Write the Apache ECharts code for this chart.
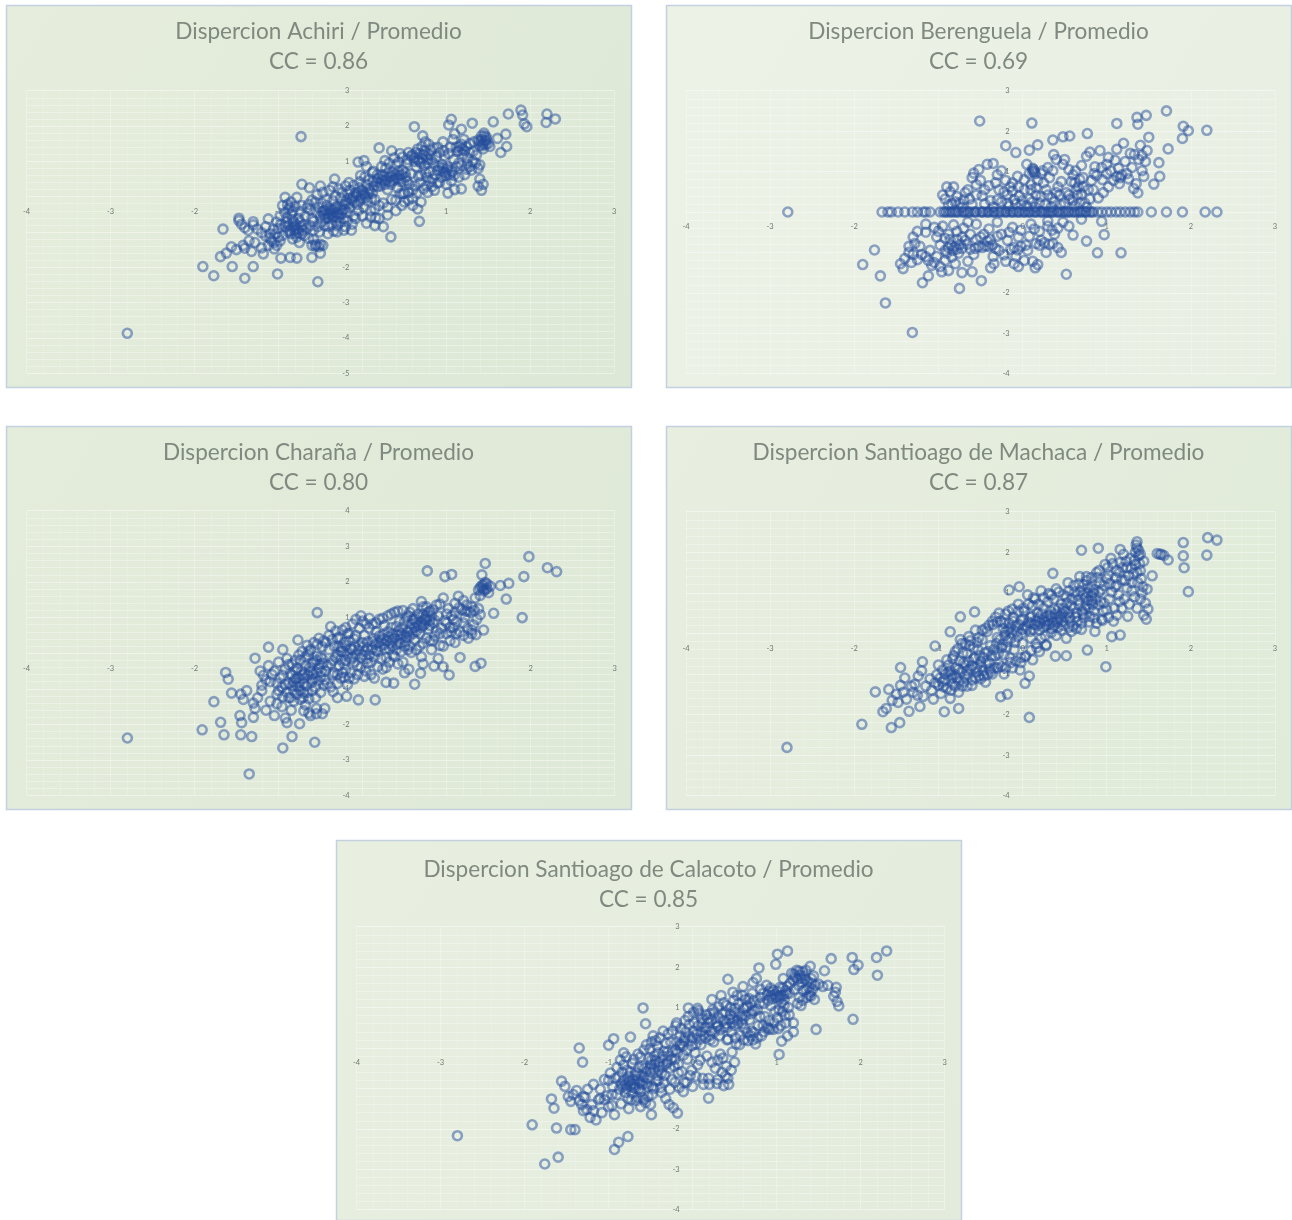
<!DOCTYPE html>
<html><head><meta charset="utf-8">
<script src="https://cdn.jsdelivr.net/npm/echarts@6/dist/echarts.min.js"></script>
<style>html,body{margin:0;padding:0;background:#fff}#c{width:1292px;height:1220px;filter:blur(0.75px)}</style>
</head><body><div id="c"></div>
<script>
const titles=["Dispercion Achiri / Promedio","Dispercion Berenguela / Promedio","Dispercion Charaña / Promedio","Dispercion Santioago de Machaca / Promedio","Dispercion Santioago de Calacoto / Promedio"];
const ccLabels=["CC = 0.86","CC = 0.69","CC = 0.80","CC = 0.87","CC = 0.85"];
const xRange=[-4,3];
const yRanges=[[-5,3],[-4,3],[-4,4],[-4,3],[-4,3]];
const achiri=[[-2.80,-3.87],[-0.73,1.70],[-1.90,-1.98],[-1.77,-2.24],[-1.55,-1.98],[-1.40,-2.31],[-1.30,-1.98],[-1.01,-2.19],[-0.53,-2.41],[-1.66,-0.92],[-1.47,-0.61],[-1.30,-0.71],[-1.12,-0.63],[-1.69,-1.70],[-1.62,-1.60],[-1.40,-1.46],
[2.30,2.20],[2.20,2.34],[2.19,2.10],[1.89,2.45],[1.91,2.31],[1.74,2.34],[1.96,1.98],[1.93,2.06],[1.56,2.12],[1.71,1.77],[1.61,1.65],[1.72,1.42],[1.65,1.25],[1.31,2.08],[1.06,2.19],[1.03,2.03],[1.18,1.91],[0.62,1.98],
[-1.47,-0.68],[-1.44,-0.78],[-1.40,-0.88],[-1.36,-0.95],[-1.30,-0.80],[-1.25,-0.92],[-1.20,-1.02],[-1.15,-0.85],[-1.10,-1.05],[-1.08,-1.25],[-1.12,-1.38],[-1.20,-1.45],[-1.28,-1.30],[-1.35,-1.25],[-1.42,-1.38],[-1.50,-1.50],[-1.56,-1.42],[-1.32,-1.55],[-1.18,-1.62],[-1.05,-1.48],[-0.97,-1.74],[-0.86,-1.72],[-0.78,-1.74],[-0.60,-1.72],[-0.50,-1.60],[-0.47,-1.38],[-0.52,-1.42],[-0.55,-1.36],
[-0.95,-1.10],[-0.92,-0.85],[-0.90,-0.60],[-0.88,-0.35],[-0.85,-0.15],[-0.92,-0.02],[-0.78,-0.02],[-0.72,0.35],[-0.63,0.25],[-0.50,0.30],[-0.33,0.50],[-0.85,-0.50],[-0.82,-0.72],[-0.80,-0.95],[-0.78,-1.15],[-0.75,-1.30],[-0.72,-1.05],[-0.70,-0.80],[-0.68,-0.55],[-0.66,-0.90],[-0.64,-1.18],[-0.88,-1.00],[-0.84,-0.88],[-0.83,-1.20],[-0.76,-0.62],[-0.74,-0.42],[-0.72,-0.25],[-0.60,-0.10],[-0.62,-0.82],[-0.58,-0.95],
[-0.55,-0.45],[-0.52,-0.30],[-0.50,-0.55],[-0.48,-0.18],[-0.46,-0.40],[-0.44,-0.62],[-0.42,-0.25],[-0.40,-0.50],[-0.38,-0.36],[-0.36,-0.58],[-0.35,-0.12],[-0.33,-0.44],[-0.31,-0.70],[-0.30,-0.28],[-0.28,-0.52],[-0.26,-0.05],[-0.24,-0.38],[-0.22,-0.62],[-0.20,-0.20],[-0.18,-0.46],[-0.17,0.08],[-0.15,-0.30],[-0.13,-0.95],[-0.12,-0.10],[-0.10,-0.55],[-0.40,-0.85],[-0.30,-1.00],[-0.20,-0.85],[-0.16,0.40],
[-0.08,0.10],[-0.06,-0.22],[-0.04,0.25],[-0.02,-0.05],[0.00,0.18],[0.02,-0.30],[0.03,0.05],[0.05,0.35],[0.06,-0.12],[0.08,0.22],[0.10,-0.40],[0.12,0.10],[0.13,0.42],[0.15,-0.08],[0.16,-0.60],[0.18,0.28],[0.20,-0.25],[-0.05,0.98],[0.02,1.02],[0.05,0.85],[0.12,0.68],[-0.02,0.60],[0.20,1.38],[0.34,-1.14],[0.25,-0.85],[0.15,-0.82],[0.30,-0.52],
[0.22,0.30],[0.24,0.62],[0.26,0.45],[0.28,0.80],[0.30,0.20],[0.32,0.55],[0.34,0.35],[0.36,0.70],[0.38,0.50],[0.40,0.90],[0.42,0.25],[0.44,0.60],[0.46,0.42],[0.48,0.75],[0.50,0.10],[0.52,0.55],[0.54,1.05],[0.56,0.35],[0.58,0.65],[0.60,0.20],[0.35,1.30],[0.45,1.22],[0.55,1.25],[0.40,-0.10],[0.47,-0.25],[0.60,-0.05],[0.66,-0.35],[0.68,-0.70],
[0.62,1.10],[0.64,0.85],[0.66,1.35],[0.68,1.00],[0.70,0.60],[0.72,1.20],[0.74,0.88],[0.75,1.55],[0.76,0.30],[0.78,1.05],[0.80,0.70],[0.82,1.32],[0.84,0.50],[0.85,0.95],[0.86,0.18],[0.88,1.12],[0.90,0.75],[0.92,0.40],[0.95,0.90],[0.97,0.70],[0.98,1.15],[1.00,0.60],[1.02,0.85],[1.05,1.40],[0.72,1.72],[0.96,1.55],[0.90,1.40],[0.70,-0.15],[0.78,0.12],
[1.06,0.75],[1.08,1.62],[1.10,1.78],[1.12,1.40],[1.15,1.30],[1.18,1.48],[1.20,1.20],[1.22,0.62],[1.25,1.10],[1.28,0.85],[1.30,0.75],[1.33,1.55],[1.35,0.95],[1.38,1.60],[1.40,1.45],[1.42,1.72],[1.44,1.35],[1.45,1.80],[1.46,1.58],[1.48,1.68],[1.50,1.50],[1.52,1.42],[1.40,0.50],[1.44,0.35],[1.38,0.30],[1.42,0.18],[1.18,0.22],[1.10,0.20],[1.02,0.10],[1.28,1.25],
[-0.90,-0.72],[-0.88,-0.80],[-0.86,-0.95],[-0.85,-1.05],[-0.83,-0.65],[-0.81,-0.85],[-0.80,-1.05],[-0.79,-0.78],[-0.77,-0.92],[-0.76,-1.02],[-0.74,-0.72],[-0.73,-0.85],[-0.71,-0.95],[-0.69,-1.10],[-0.92,-0.45],[-0.89,-0.22],[-0.86,-0.30],[-0.83,-0.42],[-0.80,-0.28],[-0.60,-1.38],[-0.56,-1.40],[-0.50,-1.35],[-1.05,-1.30],[-1.02,-1.38],[-0.98,-1.25],[-1.15,-1.12],[-1.00,-0.90],[-0.97,-0.78],
[-0.48,-0.42],[-0.46,-0.52],[-0.44,-0.38],[-0.42,-0.48],[-0.41,-0.60],[-0.39,-0.42],[-0.37,-0.50],[-0.35,-0.36],[-0.34,-0.56],[-0.32,-0.30],[-0.30,-0.46],[-0.29,-0.60],[-0.27,-0.35],[-0.25,-0.48],[-0.23,-0.22],[-0.21,-0.36],[-0.19,-0.12],[-0.16,-0.20],[-0.14,-0.05],[-0.11,0.00],[-0.09,-0.15],[-0.07,0.02],[-0.05,0.12],[-0.03,-0.12],[-0.01,0.05],[0.01,0.12],[0.04,-0.02],[0.07,0.08],[0.09,0.16],[0.11,-0.05],
[0.14,0.30],[0.17,0.42],[0.19,0.52],[0.21,0.38],[0.23,0.48],[0.25,0.58],[0.27,0.35],[0.29,0.48],[0.31,0.66],[0.33,0.42],[0.35,0.58],[0.37,0.45],[0.39,0.62],[0.41,0.52],[0.43,0.72],[0.45,0.50],[0.47,0.62],[0.49,0.40],[0.51,0.68],[0.53,0.45],
[0.60,1.18],[0.62,1.00],[0.64,1.25],[0.66,1.05],[0.68,1.22],[0.70,0.95],[0.72,1.08],[0.74,1.30],[0.76,1.15],[0.78,0.95],[0.80,1.20],[0.82,1.05],[0.91,0.85],[0.93,0.72],[0.96,0.82],[0.99,0.68],[1.01,0.78],[1.04,0.62],[1.07,0.70],[1.09,0.60],
[1.13,1.28],[1.16,1.42],[1.19,1.35],[1.22,1.30],[1.24,1.42],[1.40,1.55],[1.42,1.62],[1.44,1.50],[1.46,1.72],[1.48,1.60],[1.43,1.44],[1.47,1.48],[1.15,0.95],[1.25,0.92],[1.32,1.00],[1.38,0.80],[0.55,-0.10],[0.48,0.08],[-1.10,-1.18],[-1.03,-1.05],
[-0.58,-0.70],[-0.56,-0.15],[-0.54,0.05],[-0.53,-0.85],[-0.51,-1.00],[-0.49,-0.72],[-0.47,0.12],[-0.45,-0.82],[-0.43,-0.08],[-0.41,-1.05],[-0.39,0.18],[-0.37,-0.78],[-0.35,0.28],[-0.34,-0.98],[-0.32,0.02],[-0.30,-0.82],[-0.28,0.22],[-0.26,-0.72],[-0.24,0.12],[-0.22,-0.95],[-0.20,0.30],[-0.18,-0.68],[-0.15,0.18],[-0.12,-0.78],[-0.10,0.32],[-0.08,-0.62],[-0.05,-0.40],[-0.03,0.42],[0.00,-0.55],[0.03,0.55],[0.05,-0.75],[0.08,0.48],[0.10,-0.58],[0.13,0.72],[0.15,-0.35],[0.18,0.62],[0.20,-0.62],[0.23,0.85],[0.25,-0.18],[0.27,1.02],[0.30,-0.30],[0.32,0.95],[0.35,-0.08],[0.38,1.10],[0.40,-0.40],[0.43,0.98],[0.45,0.08],[0.48,1.12],[0.50,-0.15],[0.53,0.95],[0.55,0.12],[0.58,1.15],[0.60,-0.25],[0.63,0.30],[0.65,0.10],[0.67,0.58],[0.69,0.40],[0.71,1.42],[0.73,0.22],[0.75,0.68],[0.77,0.55],[0.79,1.48],[0.81,0.42],[0.83,0.28],[0.85,1.38],[0.87,0.62],[0.89,0.38],[0.92,1.25],[0.94,0.55],[0.97,1.30],[1.00,0.35],[1.03,1.22],[1.06,0.45],[1.09,1.05],[1.12,0.85],[1.15,0.55],[1.18,0.88],[1.21,1.62],[1.24,0.78],[1.28,1.50],[1.32,1.28],[1.36,1.18],[1.40,0.90],[-0.95,-0.25],[-0.98,-0.55],[-1.00,-1.15],[-1.02,-0.72],[-1.06,-0.92],[-0.62,-0.38],[-0.60,-0.62],[-0.64,-0.22],[-0.66,-0.32],[-0.58,-1.22]];
const berenguela=[[-2.79,0],[-1.67,0],[-1.60,0],[-1.56,0],[-1.48,0],[-1.40,0],[-1.31,0],[-1.25,0],[-1.18,0],[-1.15,0],[-1.10,0],[-0.98,0],[-0.94,0],[-0.90,0],[-0.87,0],[-0.83,0],[-0.80,0],[-0.76,0],[-0.72,0],[-0.69,0],[-0.66,0],[-0.62,0],[-0.58,0],[-0.55,0],[-0.50,0],[-0.47,0],[-0.43,0],[-0.40,0],[-0.36,0],[-0.33,0],[-0.29,0],[-0.25,0],[-0.21,0],[-0.18,0],[-0.14,0],[-0.11,0],[-0.07,0],[-0.04,0],[0.00,0],[0.03,0],[0.07,0],[0.10,0],[0.14,0],[0.17,0],[0.21,0],[0.24,0],[0.27,0],[0.31,0],[0.34,0],[0.37,0],[0.41,0],[0.44,0],[0.47,0],[0.51,0],[0.54,0],[0.58,0],[0.61,0],[0.65,0],[0.68,0],[0.72,0],[0.76,0],[0.80,0],[0.84,0],[0.89,0],[0.94,0],[1.00,0],[1.05,0],[1.11,0],[1.16,0],[1.22,0],[1.28,0],[1.33,0],[1.37,0],[1.53,0],[1.71,0],[1.90,0],[2.17,0],[2.31,0],
[-0.92,0],[-0.85,0],[-0.78,0],[-0.70,0],[-0.64,0],[-0.56,0],[-0.48,0],[-0.41,0],[-0.34,0],[-0.27,0],[-0.20,0],[-0.12,0],[-0.05,0],[0.02,0],[0.08,0],[0.15,0],[0.22,0],[0.29,0],[0.35,0],[0.42,0],[0.49,0],[0.55,0],[0.62,0],[0.69,0],[0.75,0],[0.82,0],
[-0.51,2.25],[0.11,2.20],[1.71,2.50],[1.36,2.34],[1.47,2.39],[1.37,2.17],[1.12,2.19],[1.91,2.12],[1.97,2.01],[1.90,1.82],[2.19,2.02],[1.73,1.56],[1.62,1.22],[1.63,0.88],[1.56,0.69],[1.37,0.47],[0.77,1.94],[0.56,1.88],[0.48,1.86],[0.36,1.78],[0.18,1.66],[0.08,1.53],[-0.20,1.64],[-0.08,1.47],
[-1.76,-0.94],[-1.90,-1.30],[-1.69,-1.58],[-1.63,-2.25],[-1.31,-2.98],[-0.75,-1.89],[-0.49,-1.70],[-1.19,-1.75],[-1.12,-1.58],[0.52,-1.54],[0.89,-1.01],[1.17,-1.01],[0.97,-0.56],[0.94,-0.23],[0.76,-0.72],[0.60,-0.57],
[-0.90,0.62],[-0.86,0.50],[-0.92,0.32],[-0.84,0.20],[-0.78,0.38],[-0.72,0.12],[-0.65,0.55],[-0.63,0.32],[-0.60,0.85],[-0.58,0.96],[-0.52,1.05],[-0.50,0.78],[-0.48,0.40],[-0.42,1.18],[-0.35,1.20],[-0.30,0.92],[-0.28,0.55],[-0.25,0.25],[-0.20,0.78],[-0.18,0.42],[-0.15,0.62],[-0.10,0.30],[-0.06,0.88],[-0.02,0.18],[0.02,0.55],[0.05,1.18],[0.08,0.32],[0.12,1.08],[0.14,1.00],[0.16,0.42],[0.18,0.78],[0.20,0.22],[0.24,1.02],[0.28,0.55],[0.32,0.85],[0.35,0.35],[0.37,1.42],[0.40,1.30],[0.42,0.62],[0.45,0.18],[0.48,1.18],[0.52,0.48],[0.55,1.05],[0.58,0.75],[0.60,0.28],[0.63,1.02],[0.66,0.62],[0.70,0.45],[0.72,0.85],[0.74,0.22],[0.76,1.38],[0.80,1.48],[0.84,0.55],[0.86,1.12],[0.88,0.90],[0.92,1.52],[0.96,0.48],[1.00,1.18],[1.02,1.35],[1.05,1.02],[1.08,0.78],[1.12,1.55],[1.14,1.08],[1.18,0.92],[1.20,1.70],[1.22,1.25],[1.26,0.82],[1.30,1.10],[1.33,1.42],[1.35,0.70],[1.38,1.30],[1.40,1.65],[1.42,1.02],[1.44,0.88],[1.46,1.25],[1.48,1.52],[1.50,1.85],
[-1.15,-0.30],[-1.05,-0.38],[-1.00,-0.48],[-0.95,-0.35],[-0.88,-0.55],[-0.82,-0.32],[-0.78,-0.48],[-0.70,-0.40],[-0.62,-0.55],[-0.55,-0.30],[-0.50,-0.62],[-0.40,-0.42],[-0.30,-0.25],[-0.25,-0.55],[-0.12,-0.38],[-0.05,-0.62],[0.10,-0.30],[0.20,-0.48],[0.30,-0.22],[0.42,-0.40],[0.48,-0.25],[0.55,-0.35],[0.70,-0.18],
[-1.30,-0.62],[-1.28,-0.78],[-1.22,-0.85],[-1.35,-1.00],[-1.40,-1.15],[-1.45,-1.28],[-1.42,-1.40],[-1.32,-1.25],[-1.20,-1.05],[-1.10,-0.95],[-1.02,-1.10],[-1.05,-1.25],[-0.98,-1.35],[-0.92,-1.20],[-0.88,-1.45],[-0.80,-1.28],[-0.72,-1.50],[-0.65,-1.22],[-0.60,-1.48],[-0.38,-1.38],[-0.34,-1.28],[-0.20,-1.22],[-0.10,-1.28],[-0.05,-1.35],[0.12,-1.22],[0.18,-1.30],[0.15,-1.38],
[-0.92,-0.95],[-0.88,-0.88],[-0.85,-0.82],[-0.83,-0.95],[-0.80,-0.86],[-0.78,-0.92],[-0.76,-1.02],[-0.74,-0.80],[-0.72,-0.90],[-0.62,-0.92],[-0.56,-0.90],[-0.52,-0.85],[-0.48,-0.88],[-0.44,-0.84],[-0.40,-0.86],[-0.36,-0.82],[-0.32,-0.90],[-0.14,-0.92],[-0.10,-0.88],[-0.06,-0.94],[-0.02,-0.85],[0.04,-0.82],[0.16,-0.78],[0.20,-0.82],[0.26,-0.76],[0.32,-0.80],[0.36,-0.78],[0.42,-0.88],[0.46,-1.00],
[-0.88,0.18],[-0.80,0.25],[-0.70,0.30],[-0.60,0.18],[-0.55,0.42],[-0.45,0.20],[-0.40,0.65],[-0.35,0.12],[-0.30,0.30],[-0.22,0.50],[-0.16,0.15],[-0.12,0.72],[-0.08,0.20],[-0.04,0.40],[0.00,0.28],[0.05,0.15],[0.10,0.68],[0.12,0.25],[0.15,0.12],[0.22,0.38],[0.25,0.72],[0.27,0.18],[0.30,0.42],[0.34,0.12],[0.38,0.25],[0.44,0.42],[0.50,0.22],[0.56,0.32],[0.62,0.15],[0.65,0.42],[0.68,0.22],[0.72,0.62],[0.76,0.12],[0.80,0.32],[0.12,1.00],[0.15,0.95],[0.13,1.05],[0.85,0.95],[0.95,0.80],[1.00,0.95],[1.16,0.85],[1.12,0.88],[0.62,0.72],[0.68,0.80],[0.64,0.55],
[-1.30,-1.05],[-1.25,-1.18],[-1.15,-1.10],[-1.08,-1.32],[-0.96,-1.48],[-0.90,-1.02],[-0.84,-1.12],[-0.78,-0.68],[-0.68,-0.70],[-0.58,-1.05],[-0.42,-0.72],[-0.22,-1.06],[-0.18,-0.70],[-0.08,-1.10],[0.02,-1.20],[0.08,-0.60],[0.22,-0.70],[0.30,-0.35],[0.38,-0.55],[-0.30,-0.60],[-0.65,-0.25],[-0.92,-0.65],[-1.15,-0.50],[-0.35,-1.10],
[-0.95,0.42],[-0.82,0.62],[-0.75,0.22],[-0.68,0.48],[-0.55,0.68],[-0.45,0.55],[-0.38,0.28],[-0.32,0.72],[-0.25,1.02],[-0.18,0.22],[-0.12,0.52],[-0.05,0.62],[0.02,0.80],[0.08,0.95],[0.10,0.55],[0.16,0.60],[0.22,0.95],[0.30,1.10],[0.36,1.02],[0.40,0.48],[0.46,0.75],[0.50,1.30],[0.55,0.42],[0.60,0.92],[0.70,1.15],[0.78,0.55],[0.82,0.78],[0.90,0.35],[0.94,1.10],[1.02,0.62],[1.10,1.28],[1.15,0.70],[1.24,0.95],[1.28,1.45],[1.32,0.58],[1.42,1.40],[-1.02,-0.62],[-0.98,-0.82],[-0.86,-0.68],[-0.72,-0.62],[-0.66,-0.80],[-0.55,-0.68],[-0.46,-0.55],[-0.38,-0.68],[-0.28,-0.95],[-0.16,-0.50],[-0.02,-0.45],[0.06,-0.95],[0.14,-0.42],[0.28,-1.00],[0.35,-0.45],[-1.35,-0.85],[-1.25,-0.48],[-1.12,-1.20]];
const charana=[[-2.80,-2.38],[-1.91,-2.15],[-1.77,-1.36],[-1.69,-1.94],[-1.65,-2.29],[-1.63,-0.54],[-1.60,-0.73],[-1.56,-1.12],[-1.45,-2.29],[-1.32,-2.34],[-1.35,-3.39],[-0.95,-2.66],[-0.84,-2.34],[-0.57,-2.50],[-1.28,-0.14],[-1.12,0.17],[-0.77,0.37],[-0.54,1.14],[-0.38,0.75],[0.77,2.31],[0.98,2.15],[1.06,2.21],[1.46,2.52],[1.42,2.20],[1.98,2.71],[2.20,2.40],[2.31,2.29],[1.92,2.15],[1.90,1.00],[1.71,1.52],[1.74,1.96],[1.64,1.90],[1.56,1.12],[1.41,-0.28],[1.34,-0.37],[1.03,-0.61],[0.85,-0.36],[0.69,-0.56],[0.62,-0.87],[0.37,-0.84],[0.15,-1.31],[-0.05,-1.31],[-0.19,-1.21],
[-1.45,-1.15],[-1.42,-1.30],[-1.38,-1.05],[-1.46,-1.75],[-1.44,-1.95],[-1.30,-1.80],[-1.25,-1.25],[-1.20,-1.05],[-1.15,-1.60],[-1.10,-1.35],[-1.05,-1.75],[-1.02,-1.15],[-0.96,-1.50],[-0.92,-1.82],[-0.90,-1.95],[-0.88,-1.25],[-0.85,-1.60],[-0.75,-1.98],[-0.70,-1.62],[-0.62,-1.75],[-0.55,-1.70],[-0.45,-1.55],[-0.30,-1.25],
[-1.22,-0.50],[-1.18,-0.62],[-1.12,-0.35],[-1.10,-0.80],[-1.05,-0.50],[-1.00,-0.25],[-0.98,-0.70],[-0.95,0.10],[-0.92,-0.45],[-0.90,-0.15],[-0.88,-0.85],[-0.86,-0.58],[-0.84,-0.30],[-0.82,-1.05],[-0.80,-0.72],[-0.78,-0.42],[-0.76,-0.95],[-0.74,-0.20],[-0.72,-0.62],[-0.70,-0.85],[-0.68,-0.35],[-0.66,-1.10],[-0.64,0.05],[-0.62,-0.50],[-0.60,-0.75],[-0.58,-0.25],[-0.56,-0.95],[-0.54,0.25],[-0.52,-0.42],[-0.50,-0.65],[-0.48,-0.15],[-0.46,0.35],[-0.44,-0.50],[-0.42,-0.85],[-0.40,0.10],[-0.38,-0.30],[-0.36,-0.60],
[-0.34,0.20],[-0.32,-0.12],[-0.30,0.42],[-0.28,-0.35],[-0.26,0.05],[-0.24,-0.55],[-0.22,0.30],[-0.20,-0.20],[-0.18,0.55],[-0.16,-0.70],[-0.14,0.12],[-0.12,-0.10],[-0.10,0.40],[-0.08,0.95],[-0.06,-0.35],[-0.04,0.22],[-0.02,1.05],[0.00,-0.05],[0.02,0.50],[0.04,-0.50],[0.06,0.15],[0.08,0.70],[0.10,-0.25],[0.12,0.32],[0.14,-0.70],[0.16,0.85],[0.18,0.05],[0.20,0.48],[0.22,-0.15],[0.24,0.98],[0.26,0.25],[0.28,-0.40],[0.30,0.60],[0.32,0.12],[0.34,1.10],[0.36,0.38],[0.38,-0.10],[0.40,0.75],[0.42,1.18],[0.44,0.28],[0.46,0.55],[0.48,-0.25],[0.50,0.90],[0.52,0.45],[0.54,1.05],[0.56,0.20],[0.58,0.68],[0.60,1.25],[0.62,0.38],[0.64,0.85],[0.66,1.10],[0.68,0.55],[0.70,1.45],[0.72,0.28],[0.74,0.95],[0.76,1.30],[0.78,0.68],[0.80,1.18],[0.82,0.10],[0.84,0.85],[0.86,0.48],[0.88,1.35],[0.90,1.05],[0.92,0.22],[0.94,0.70],[0.96,1.55],[0.98,0.92],[1.00,0.55],[1.02,1.25],[1.04,0.35],[1.06,1.05],[1.08,0.72],[1.10,1.40],[1.12,0.88],[1.14,1.60],[1.16,0.60],[1.18,1.22],[1.20,1.48],[1.22,1.00],[1.24,1.35],[1.26,0.42],[1.28,1.15],[1.30,1.30],[1.32,0.80],[1.34,1.55],[1.36,0.95],[1.38,1.25],[1.40,1.08],[1.42,1.90],[1.44,1.75],[1.46,1.98],[1.48,1.82],[1.50,1.70],[1.40,1.62],[1.52,1.88],[1.44,0.65],[0.50,-0.55],[0.55,-0.45],[0.28,-0.82],[0.72,-0.30],[0.90,-0.15],[0.96,-0.38],[1.16,-0.12],
[-0.65,-0.05],[-0.60,-0.30],[-0.55,-0.55],[-0.50,-0.10],[-0.45,-0.75],[-0.35,-0.20],[-0.30,-0.60],[-0.25,0.15],[-0.20,-0.45],[-0.10,-0.25],[0.00,0.30],[0.05,-0.15],[0.15,0.25],[0.25,0.40],[0.35,0.20],[0.42,0.50],[0.55,0.62],[0.62,0.72],[0.70,0.88],[0.75,1.02],[0.80,0.92],[0.72,0.78],
[-0.84,-0.62],[-0.82,-0.80],[-0.80,-0.50],[-0.79,-0.92],[-0.77,-0.68],[-0.75,-0.82],[-0.74,-1.05],[-0.73,-0.50],[-0.71,-1.25],[-0.70,-0.70],[-0.69,-0.55],[-0.68,-1.45],[-0.67,-0.92],[-0.65,-0.62],[-0.64,-1.68],[-0.63,-0.40],[-0.61,-0.82],[-0.59,-0.58],[-0.57,-0.70],[-0.55,-0.20],[-0.53,-0.78],[-0.51,-0.32],[-0.49,-0.52],[-0.47,-0.28],
[-0.30,-0.05],[-0.28,0.18],[-0.26,-0.18],[-0.24,0.05],[-0.22,-0.30],[-0.20,0.22],[-0.18,-0.02],[-0.16,0.35],[-0.14,-0.15],[-0.12,0.10],[-0.10,0.20],[-0.08,-0.05],[-0.05,0.08],[-0.02,-0.12],[0.01,0.18],[0.03,0.05],[0.06,0.32],[0.08,-0.05],[0.11,0.12],[0.13,0.42],[0.16,0.08],[0.19,0.30],[0.21,0.18],[0.24,0.52],[0.27,0.12],[0.29,0.35],[0.31,0.45],[0.33,0.28],[0.36,0.55],[0.38,0.42],[0.41,0.25],[0.43,0.62],[0.45,0.40],[0.47,0.72],[0.49,0.50],[0.51,0.32],[0.53,0.60],[0.56,0.48],[0.58,0.82],[0.60,0.55],[0.62,0.95],[0.64,0.62],[0.66,0.78],[0.68,1.02],[0.70,0.72],[0.72,1.10],[0.74,0.82],[0.76,0.95],[0.78,1.15],[0.80,0.78],[0.82,1.05],[0.84,1.22],[0.86,0.92],[1.00,0.85],[1.04,0.72],[1.08,0.95],[1.12,0.55],[1.20,0.85],[1.25,0.70],[1.30,0.55],[1.40,1.85],[1.44,1.92],[1.46,1.78],[1.48,1.95],[1.43,1.82],[1.38,1.78],[1.33,1.20],[1.22,1.18],[1.10,1.15],[0.92,1.38],[0.70,-0.10],[-1.30,-1.40],[-1.28,-1.55],[-1.02,-1.42],[-0.95,-1.22],[-0.55,-1.55],[-0.48,-1.70],[-0.35,-1.08],
[-0.95,-0.62],[-0.92,-0.88],[-0.90,-1.10],[-0.88,-0.32],[-0.86,-1.25],[-0.84,-0.92],[-0.82,-1.35],[-0.80,-0.20],[-0.78,-1.15],[-0.76,-0.05],[-0.74,-1.30],[-0.72,0.05],[-0.70,-1.12],[-0.68,-0.10],[-0.66,0.22],[-0.64,-1.28],[-0.62,0.10],[-0.60,-1.05],[-0.58,0.30],[-0.56,-1.25],[-0.54,-0.08],[-0.52,0.42],[-0.50,-1.10],[-0.48,0.18],[-0.46,-0.90],[-0.44,0.30],[-0.42,-0.35],[-0.40,0.50],[-0.38,-0.95],[-0.36,0.38],[-0.34,-0.55],[-0.32,0.62],[-0.30,-0.85],[-0.28,0.45],[-0.26,-0.70],[-0.24,0.65],[-0.22,-0.68],[-0.20,0.72],[-0.18,-0.88],[-0.16,0.55],[-0.14,-0.55],[-0.12,0.82],[-0.10,-0.72],[-0.08,0.50],[-0.06,-0.60],[-0.04,0.70],[-0.02,-0.40],[0.00,0.90],[0.02,-0.65],[0.04,0.82],[0.06,-0.28],[0.08,0.98],[0.10,-0.60],[0.12,0.82],[0.14,-0.10],[0.16,0.60],[0.18,-0.38],[0.20,0.95],[0.22,0.35],[0.24,-0.45],[0.26,0.78],[0.28,-0.12],[0.30,1.05],[0.32,-0.25],[0.34,0.72],[0.36,-0.05],[0.38,1.15],[0.40,0.10],[0.42,-0.30],[0.44,0.90],[0.46,0.05],[0.48,1.20],[0.50,0.20],[0.52,1.00],[0.54,0.10],[0.56,1.15],[0.58,0.02],[0.60,0.95],[0.64,0.10],[0.68,0.20],[0.72,1.30],[0.76,0.42],[0.80,0.35],[0.84,0.35],[0.88,0.62],[0.92,0.55],[0.96,0.20],[1.00,1.10],[1.05,0.60],[1.10,0.30],[1.15,1.28],[1.20,0.50],[1.25,1.18],[1.30,0.65],[1.35,0.52],[-1.20,-0.90],[-1.15,-0.75],[-1.08,-0.60],[-1.02,-0.85],[-1.00,-1.05],[-0.96,-0.95]];
const machaca=[[-2.80,-2.81],[-1.91,-2.24],[-1.56,-2.32],[-1.46,-2.20],[-1.66,-1.93],[-1.75,-1.44],[-1.59,-1.38],[-1.45,-0.84],[-1.19,-0.70],[-1.04,-0.31],[-0.93,-1.93],[-0.76,-1.85],[0.08,-2.07],[-0.26,-1.56],[-0.18,-1.50],[0.03,-1.23],[-0.74,0.41],[-0.57,0.53],[-0.86,0.04],[-0.16,1.07],[-0.04,1.15],[0.36,1.48],[0.70,2.05],[0.90,2.10],[1.16,2.07],[1.36,2.26],[1.36,2.10],[1.63,1.95],[1.73,1.81],[1.91,2.24],[1.91,1.91],[1.92,1.62],[1.97,1.03],[2.20,2.36],[2.31,2.30],[2.19,1.93],[1.54,1.42],[1.48,1.09],[1.49,0.60],[1.47,0.35],[1.06,-0.08],[1.16,-0.04],[0.99,-0.82],[0.77,-0.41],[0.52,-0.55],[0.39,-0.56],
[-1.62,-1.85],[-1.55,-1.65],[-1.50,-1.50],[-1.45,-1.28],[-1.40,-1.10],[-1.38,-1.62],[-1.35,-1.92],[-1.30,-1.45],[-1.28,-1.25],[-1.24,-1.05],[-1.20,-0.92],[-1.18,-1.55],[-1.15,-1.30],[-1.10,-1.12],[-1.06,-1.62],[-1.02,-1.02],[-1.00,-1.28],[-0.97,-1.48],[-0.95,-0.90],[-0.92,-1.15],[-0.90,-1.35],[-0.88,-0.78],[-0.86,-1.60],[-0.85,-1.02],[-0.83,-1.25],[-0.82,-0.55],[-0.80,-0.85],[-0.78,-1.10],[-0.76,-1.45],[-0.75,-0.68],[-0.73,-0.95],[-0.72,-0.25],[-0.70,-1.20],[-0.68,-0.78],[-0.66,-0.50],[-0.65,-1.02],[-0.63,-0.30],[-0.62,-0.88],[-0.60,-1.15],[-0.58,-0.62],[-0.56,0.08],[-0.55,-0.85],[-0.53,-0.40],[-0.52,-1.05],[-0.50,-0.70],[-0.48,-0.15],[-0.47,-0.92],[-0.45,-0.48],[-0.44,-1.20],[-0.42,0.05],[-0.40,-0.72],[-0.38,-0.30],[-0.36,-1.00],[-0.35,0.22],
[-0.33,-0.55],[-0.32,0.40],[-0.30,-0.10],[-0.28,-0.75],[-0.26,0.30],[-0.25,-0.35],[-0.23,0.12],[-0.22,-0.52],[-0.20,0.48],[-0.18,-0.20],[-0.16,0.25],[-0.15,-0.60],[-0.13,0.02],[-0.12,0.60],[-0.10,-0.40],[-0.08,0.18],[-0.06,-0.08],[-0.05,0.72],[-0.03,-0.90],[-0.02,0.32],[0.00,-0.25],[0.02,0.55],[0.03,-0.58],[0.05,0.12],[0.06,0.95],[0.08,-1.05],[0.09,0.40],[0.10,-0.12],[0.12,0.68],[0.14,0.22],[0.15,0.85],[0.17,-0.35],[0.18,0.50],[0.20,0.08],[0.22,1.05],[0.24,0.35],[0.25,0.62],[0.27,-0.05],[0.28,0.20],[0.30,0.78],[0.32,0.45],[0.34,0.95],[0.36,0.28],[0.38,0.60],[0.40,1.10],[0.42,0.15],[0.44,0.42],[0.46,0.72],[0.48,0.30],[0.50,0.55],[0.52,0.90],[0.54,1.25],[0.56,0.40],[0.58,0.68],[0.60,0.18],[0.62,1.02],[0.64,0.50],[0.66,0.82],[0.68,1.40],[0.70,0.25],[0.72,0.95],[0.74,0.62],[0.76,1.30],[0.78,1.12],[0.80,0.42],[0.82,0.80],[0.84,1.00],[0.86,0.05],[0.88,1.50],[0.90,0.70],[0.92,1.25],[0.94,1.08],[0.96,0.55],[0.98,1.70],[1.00,1.35],[1.02,1.45],[1.05,1.85],[1.08,0.30],[1.10,1.15],[1.12,1.55],[1.14,0.95],[1.16,1.75],[1.18,0.62],[1.20,1.95],[1.22,1.30],[1.24,1.62],[1.25,0.42],[1.28,1.85],[1.30,1.05],[1.32,1.48],[1.34,1.70],[1.35,2.18],[1.37,1.25],[1.38,1.92],[1.40,1.55],[1.42,1.00],[1.44,1.78],[1.46,0.75],[1.44,0.45],[1.65,1.95],[1.60,1.97],[1.68,1.92],[1.12,0.45],[1.02,0.40],[0.95,0.32],[0.85,0.38],
[-0.92,-1.00],[-0.88,-0.95],[-0.84,-1.10],[-0.80,-1.02],[-0.76,-1.18],[-0.72,-1.30],[-0.68,-1.05],[-0.85,-1.40],[-0.80,-1.30],[-0.76,-0.88],[-0.20,0.05],[-0.15,0.15],[0.00,0.10],[0.10,0.25],[0.18,0.20],[0.25,0.15],[0.30,0.30],[0.35,0.12],[0.42,0.35],[0.48,0.20],[0.55,0.15],[0.65,0.30],[0.72,0.48],[0.78,0.82],[0.82,0.92],[0.76,0.70],
[-0.70,-0.72],[-0.66,-0.92],[-0.64,-0.68],[-0.60,-0.80],[-0.57,-0.60],[-0.54,-0.95],[-0.51,-0.55],[-0.49,-0.82],[-0.46,-0.60],[-0.43,-0.75],[-0.41,-0.45],[-0.39,-0.88],[-0.37,-0.55],[-0.34,-0.40],[-0.31,-0.25],[-0.29,-0.50],[-0.27,-0.15],[-0.24,-0.28],[-0.21,-0.05],[-0.19,-0.35],[-0.17,0.08],[-0.14,-0.12],[-0.11,0.30],[-0.09,-0.22],[-0.07,0.05],[-0.04,0.22],[-0.01,0.00],[0.01,0.35],[0.04,0.18],[0.07,0.28],[0.09,0.05],[0.11,0.42],[0.13,0.10],[0.16,0.32],[0.19,0.38],[0.21,0.25],[0.23,0.48],[0.26,0.30],[0.29,0.42],[0.31,0.22],[0.33,0.55],[0.35,0.40],[0.37,0.18],[0.39,0.48],[0.41,0.28],[0.43,0.62],[0.45,0.35],[0.47,0.48],[0.49,0.62],[0.51,0.40],[0.53,0.75],[0.55,0.52],[0.57,0.30],[0.59,0.85],[0.61,0.62],[0.63,0.40],[0.65,0.95],[0.67,0.70],[0.69,1.05],[0.71,0.55],[0.73,1.20],[0.75,0.88],[0.77,1.00],[0.79,0.62],[0.81,1.15],[0.83,0.72],[0.85,1.08],[0.87,0.85],[0.89,1.38],[0.91,1.02],[0.93,0.78],[0.97,1.18],[1.01,1.62],[1.04,1.22],[1.07,1.72],[1.11,1.38],[1.15,1.50],[1.19,1.62],[1.23,1.78],[1.26,1.42],[1.29,1.60],[1.33,1.80],[1.36,1.50],[1.39,1.72],[1.41,1.35],[1.38,2.05],[1.34,2.00],[1.40,1.95],[-1.25,-1.52],[-1.32,-1.30],[-1.42,-1.45],[-1.48,-1.70],[-1.22,-1.80],[-1.08,-1.40],[-1.04,-1.22],[-0.98,-1.10],[-0.94,-1.32],[-0.30,-0.85],[-0.22,-1.00],[-0.12,-0.85],[-0.02,-0.60],[0.12,-0.65],[0.20,-0.45],[0.28,-0.28],
[-1.00,-0.78],[-0.95,-1.20],[-0.90,-0.65],[-0.86,-0.92],[-0.83,-0.62],[-0.80,-0.45],[-0.77,-0.38],[-0.74,-0.15],[-0.71,-0.48],[-0.68,-0.25],[-0.66,-1.30],[-0.64,-0.08],[-0.62,-0.18],[-0.60,-1.28],[-0.58,-0.35],[-0.56,-1.10],[-0.54,-0.22],[-0.52,-0.10],[-0.50,-1.12],[-0.48,0.08],[-0.46,-1.05],[-0.44,0.12],[-0.42,-1.02],[-0.40,0.20],[-0.38,-0.95],[-0.36,0.30],[-0.33,-0.85],[-0.30,0.28],[-0.28,0.50],[-0.25,-0.82],[-0.22,0.25],[-0.20,-0.85],[-0.17,0.55],[-0.14,-0.72],[-0.11,0.40],[-0.08,-0.68],[-0.05,0.55],[-0.02,-0.72],[0.01,0.62],[0.04,-0.55],[0.07,0.72],[0.10,-0.42],[0.13,0.88],[0.16,-0.25],[0.19,0.72],[0.22,-0.12],[0.25,0.88],[0.28,-0.30],[0.31,0.98],[0.34,0.02],[0.37,0.85],[0.40,-0.05],[0.43,1.02],[0.46,0.08],[0.49,0.95],[0.52,-0.12],[0.55,1.05],[0.58,0.05],[0.61,1.18],[0.64,0.12],[0.67,1.22],[0.70,0.10],[0.73,0.38],[0.76,1.40],[0.79,0.28],[0.82,1.38],[0.85,0.55],[0.88,0.25],[0.91,1.55],[0.94,0.35],[0.97,0.75],[1.00,0.58],[1.03,0.85],[1.06,1.02],[1.09,0.62],[1.12,1.20],[1.15,0.78],[1.18,1.32],[1.21,0.85],[1.24,1.12],[1.27,0.72],[1.30,1.25],[1.33,0.90],[1.36,0.62],[1.40,0.85],[1.43,1.15]];
const calacoto=[[-2.80,-2.17],[-1.91,-1.90],[-1.76,-2.87],[-1.60,-2.70],[-1.62,-1.98],[-1.45,-2.02],[-1.40,-2.02],[-0.93,-2.51],[-0.88,-2.33],[-0.77,-2.19],[-1.68,-1.26],[-1.65,-1.49],[-1.56,-0.82],[-1.35,0.00],[-1.31,-0.35],[-1.00,0.07],[-0.94,0.23],[-0.74,0.27],[-0.59,0.99],[-0.56,0.60],[-0.18,-1.61],[-0.49,-1.65],[0.19,-1.24],[0.37,-0.93],[-0.05,0.99],[0.06,0.98],[0.23,1.20],[0.42,1.70],[0.79,1.98],[0.99,2.07],[1.01,2.32],[1.13,2.40],[1.65,2.21],[1.57,1.91],[1.40,2.02],[1.90,2.24],[1.97,2.05],[1.92,1.94],[2.19,2.24],[2.31,2.40],[2.20,1.80],[1.91,0.71],[1.47,0.46],[1.20,0.62],[1.20,0.40],[1.06,0.17],[1.03,-0.16],[1.74,1.04],[1.71,1.50],[1.61,1.55],
[-1.52,-0.95],[-1.48,-1.20],[-1.45,-1.32],[-1.42,-1.15],[-1.38,-1.05],[-1.32,-1.40],[-1.30,-1.55],[-1.28,-1.22],[-1.25,-1.02],[-1.22,-1.72],[-1.20,-1.40],[-1.18,-0.90],[-1.15,-1.78],[-1.12,-1.28],[-1.10,-1.02],[-1.08,-1.60],[-1.05,-0.78],[-1.02,-1.18],[-1.00,-1.45],[-0.98,-0.62],[-0.95,-0.95],[-0.93,-1.65],[-0.90,-1.15],[-0.88,-0.72],[-0.86,-0.30],[-0.85,-1.38],[-0.83,-0.95],[-0.82,-0.12],[-0.80,-1.10],[-0.78,-0.55],[-0.76,-1.50],[-0.75,-0.82],[-0.73,-1.28],[-0.72,-0.38],[-0.70,-0.98],[-0.68,-0.68],[-0.66,-1.22],[-0.65,-0.15],[-0.63,-0.85],[-0.62,-1.08],[-0.60,-0.45],[-0.58,-0.72],[-0.56,-1.35],[-0.55,0.08],[-0.53,-0.95],[-0.52,-0.25],[-0.50,-0.60],[-0.48,-1.15],[-0.47,0.30],[-0.45,-0.40],[-0.43,-0.82],[-0.42,0.05],[-0.40,-0.55],[-0.38,-0.98],[-0.36,-0.20],[-0.35,0.42],[-0.33,-0.68],[-0.32,-1.25],[-0.30,-0.35],[-0.28,-1.40],[-0.26,0.15],[-0.25,-0.78],[-0.23,-1.48],[-0.22,-0.45],[-0.20,0.55],[-0.18,-0.12],[-0.16,-0.98],[-0.15,0.30],[-0.13,-0.58],[-0.12,0.05],[-0.10,-0.85],[-0.08,0.40],[-0.06,-0.28],[-0.05,0.78],[-0.03,-0.68],[-0.02,0.18],[0.00,-0.95],[0.02,0.62],
[0.03,-0.12],[0.05,0.35],[0.06,-0.42],[0.08,0.85],[0.10,0.08],[0.12,-0.75],[0.14,0.50],[0.15,0.25],[0.17,-0.20],[0.18,0.72],[0.20,-0.90],[0.22,0.42],[0.24,0.95],[0.25,0.15],[0.27,-0.50],[0.28,0.62],[0.30,-0.78],[0.32,0.30],[0.34,1.30],[0.35,0.85],[0.36,-0.25],[0.38,0.52],[0.40,1.05],[0.42,0.22],[0.43,-0.90],[0.44,0.72],[0.46,0.40],[0.48,1.38],[0.50,0.88],[0.52,0.10],[0.54,0.60],[0.55,1.10],[0.57,0.32],[0.58,0.78],[0.60,1.52],[0.62,0.48],[0.64,1.00],[0.66,0.18],[0.67,1.22],[0.68,0.70],[0.70,0.42],[0.72,1.62],[0.74,0.92],[0.75,0.10],[0.76,1.72],[0.78,0.55],[0.80,1.10],[0.82,0.30],[0.84,1.35],[0.86,0.78],[0.88,1.55],[0.90,1.18],[0.92,0.46],[0.94,1.30],[0.96,1.42],[0.98,0.90],[1.00,1.25],[1.02,0.48],[1.04,1.50],[1.06,1.12],[1.08,1.72],[1.10,0.80],[1.12,1.35],[1.14,1.00],[1.16,1.60],[1.18,1.85],[1.20,1.68],[1.22,1.75],[1.24,1.92],[1.26,1.55],[1.28,1.80],[1.30,1.62],[1.32,1.42],[1.34,1.70],[1.36,1.25],[1.38,1.50],[1.40,1.38],[1.42,1.60],[1.44,1.78],[1.46,1.55],[1.50,1.58],[1.55,1.52],[1.68,1.28],[1.70,1.38],[1.72,1.15],
[-0.85,-0.88],[-0.80,-0.92],[-0.76,-0.70],[-0.72,-0.88],[-0.68,-1.00],[-0.65,-0.78],[-0.60,-0.90],[-0.55,-0.58],[-0.50,-0.42],[-0.45,-0.20],[-0.40,-0.35],[-0.35,-0.45],[-0.30,-0.10],[-0.25,-0.28],[-0.20,-0.05],[-0.15,0.05],[-0.10,0.18],[0.00,0.25],[0.10,0.40],[0.20,0.30],[0.30,0.55],[0.40,0.60],[0.50,0.55],[0.60,0.72],[0.70,0.85],[0.80,0.78],[0.95,1.22],[1.02,1.28],[1.08,1.30],[-0.48,-0.95],[-0.42,-0.68],[0.46,-0.55],[0.42,-0.75],[0.35,-0.60],
[-0.82,-0.80],[-0.79,-1.00],[-0.77,-0.85],[-0.74,-0.95],[-0.71,-0.78],[-0.69,-0.90],[-0.67,-0.62],[-0.64,-1.02],[-0.61,-0.68],[-0.59,-0.82],[-0.57,-0.50],[-0.54,-0.75],[-0.51,-0.50],[-0.49,-0.30],[-0.46,-0.55],[-0.44,-0.30],[-0.41,-0.12],[-0.39,-0.45],[-0.37,-0.62],[-0.34,-0.08],[-0.31,-0.40],[-0.29,-0.20],[-0.27,-0.50],[-0.24,-0.10],[-0.21,-0.28],[-0.19,0.15],[-0.17,-0.40],[-0.14,0.10],[-0.11,-0.18],[-0.09,0.25],[-0.07,-0.05],[-0.04,0.30],[-0.01,0.05],[0.01,0.42],[0.04,0.10],[0.07,0.55],[0.09,0.22],[0.11,0.60],[0.13,0.32],[0.16,0.50],[0.19,0.62],[0.21,0.20],[0.23,0.70],[0.26,0.40],[0.29,0.52],[0.31,0.75],[0.33,0.45],[0.37,0.68],[0.39,0.88],[0.41,0.50],[0.45,0.82],[0.47,0.62],[0.49,0.72],[0.51,0.98],[0.53,0.68],[0.56,0.85],[0.59,0.60],[0.61,0.98],[0.63,0.80],[0.65,1.05],[0.69,1.10],[0.71,0.92],[0.73,1.18],[0.77,0.95],[0.81,1.25],[0.85,1.10],[0.89,1.32],[0.91,1.40],[0.93,1.48],[0.97,1.32],[1.01,1.40],[1.03,1.22],[1.05,1.30],[1.07,1.48],[1.09,1.20],[1.11,1.42],[1.13,1.52],[1.15,1.35],[1.21,1.82],[1.25,1.70],[1.27,1.90],[1.29,1.72],[1.31,1.88],[1.33,1.78],[1.35,1.92],[1.37,1.65],[1.41,1.72],[1.43,1.45],[1.39,1.30],[1.45,1.20],[0.50,-0.35],[0.40,-0.45],[0.30,-0.30],[-1.35,-1.30],[-1.30,-1.20],[-1.26,-1.52],[-1.18,-1.55],[-1.10,-1.25],[-0.96,-1.42],[-0.62,-1.45],[-0.58,-1.28],[-0.50,-1.40],[0.72,0.20],[0.84,0.55],[0.90,0.48],[0.96,0.46],
[-1.05,-1.28],[-1.00,-0.80],[-0.96,-1.15],[-0.92,-0.75],[-0.90,-0.48],[-0.87,-1.02],[-0.84,-0.60],[-0.82,-0.42],[-0.79,-0.22],[-0.77,-1.25],[-0.74,-0.60],[-0.72,-1.12],[-0.70,-0.28],[-0.67,-1.30],[-0.64,-0.48],[-0.62,-0.22],[-0.60,-1.22],[-0.58,-0.05],[-0.55,-0.88],[-0.53,-1.20],[-0.51,-0.02],[-0.49,0.15],[-0.46,-1.00],[-0.44,0.18],[-0.41,-0.80],[-0.39,0.25],[-0.37,-1.10],[-0.34,-0.85],[-0.32,0.12],[-0.29,0.35],[-0.27,-1.02],[-0.24,0.42],[-0.21,-0.85],[-0.19,0.62],[-0.17,-0.62],[-0.14,0.48],[-0.11,-1.08],[-0.09,0.68],[-0.07,-0.85],[-0.04,0.58],[-0.01,-0.55],[0.01,0.88],[0.04,-0.70],[0.07,0.92],[0.09,-0.30],[0.11,0.72],[0.13,-0.90],[0.16,0.82],[0.19,-0.75],[0.21,0.85],[0.23,-0.35],[0.26,0.88],[0.29,-0.88],[0.31,1.02],[0.33,-0.15],[0.37,1.12],[0.39,-0.70],[0.41,0.20],[0.45,1.00],[0.47,-0.10],[0.49,1.18],[0.51,0.25],[0.53,1.30],[0.56,0.08],[0.59,1.30],[0.61,0.20],[0.63,1.20],[0.65,0.38],[0.69,0.30],[0.71,1.35],[0.73,0.38],[0.77,0.25],[0.81,1.45],[0.85,0.40],[0.89,0.52],[0.91,0.68],[0.93,1.05],[0.97,0.62],[1.01,0.75],[1.03,0.95],[1.05,0.55],[1.07,0.90],[1.09,1.05],[1.11,0.62],[1.13,0.30],[1.15,0.82],[1.21,1.45],[1.25,1.10],[1.27,1.25],[1.29,1.05],[1.31,1.18],[1.35,1.45],[1.41,1.28]];

const seriesData=[achiri,berenguela,charana,machaca,calacoto];
const boxes=[[6,5,625,382],[666,5,625,382],[6,426,625,383],[666,426,625,383],[336,840,625,380]];
const plots=[[26.6,90.7,587.5,282.5],[686,90.7,589,283],[26.6,510.7,588,285],[686,511.7,589,284],[356.6,926.7,588,283]];
const titleTops=[12,12,433,433,850];
const fills=[["#e6eddc","#dde8d6"],["#edf2e6","#e7eee2"],["#e4ecdb","#dfe9d8"],["#e8eee0","#e0ebd9"],["#e8efe1","#e3ecdc"]];
const zeroFromBottom=i=>plots[i][3]*(0-yRanges[i][0])/(yRanges[i][1]-yRanges[i][0]);
const zeroFromLeft=i=>plots[i][2]*(0-xRange[0])/(xRange[1]-xRange[0]);
const option={animation:false,backgroundColor:'#fff',
 title:titles.map((t,i)=>({text:t+'\n'+ccLabels[i],left:boxes[i][0]+boxes[i][2]/2-5,top:titleTops[i],textAlign:'center',
  textStyle:{fontFamily:'Lato',fontWeight:'normal',fontSize:22.6,lineHeight:30,color:'#7f897f'}})),
 graphic:boxes.map((b,i)=>({type:'rect',z:-10,shape:{x:b[0]+0.5,y:b[1]+0.5,width:b[2],height:b[3]},
  style:{fill:{type:'linear',x:0,y:0,x2:1,y2:1,colorStops:[{offset:0,color:fills[i][0]},{offset:1,color:fills[i][1]}]},stroke:'#c3d0e0',lineWidth:1.5}})),
 grid:plots.map(p=>({left:p[0],top:p[1],width:p[2],height:p[3]})),
 xAxis:plots.map((p,i)=>({type:'value',gridIndex:i,position:'bottom',offset:-zeroFromBottom(i),min:xRange[0],max:xRange[1],interval:1,
  axisLine:{show:false,onZero:false},axisTick:{show:false},
  axisLabel:{fontSize:7.5,color:'#6f7970',margin:11,fontFamily:'Lato'},
  splitLine:{show:true,lineStyle:{color:'rgba(255,255,255,0.3)',width:1}},
  minorTick:{show:false,splitNumber:5},minorSplitLine:{show:true,lineStyle:{color:'rgba(255,255,255,0.16)',width:1}}})),
 yAxis:plots.map((p,i)=>({type:'value',gridIndex:i,position:'left',offset:-zeroFromLeft(i),min:yRanges[i][0],max:yRanges[i][1],interval:1,
  axisLine:{show:false,onZero:false},axisTick:{show:false},
  axisLabel:{fontSize:7.5,color:'#6f7970',margin:13,fontFamily:'Lato'},
  splitLine:{show:true,lineStyle:{color:'rgba(255,255,255,0.45)',width:1}},
  minorTick:{show:false,splitNumber:5},minorSplitLine:{show:true,lineStyle:{color:'rgba(255,255,255,0.32)',width:1}}})),
 series:seriesData.map((d,i)=>({type:'scatter',xAxisIndex:i,yAxisIndex:i,data:d,z:5,symbol:'circle',symbolSize:9,
  itemStyle:{color:'rgba(0,0,0,0)',borderColor:'rgba(36,76,155,0.62)',borderWidth:2.6}}))
};
echarts.init(document.getElementById('c'),null,{renderer:'canvas'}).setOption(option);
</script></body></html>
